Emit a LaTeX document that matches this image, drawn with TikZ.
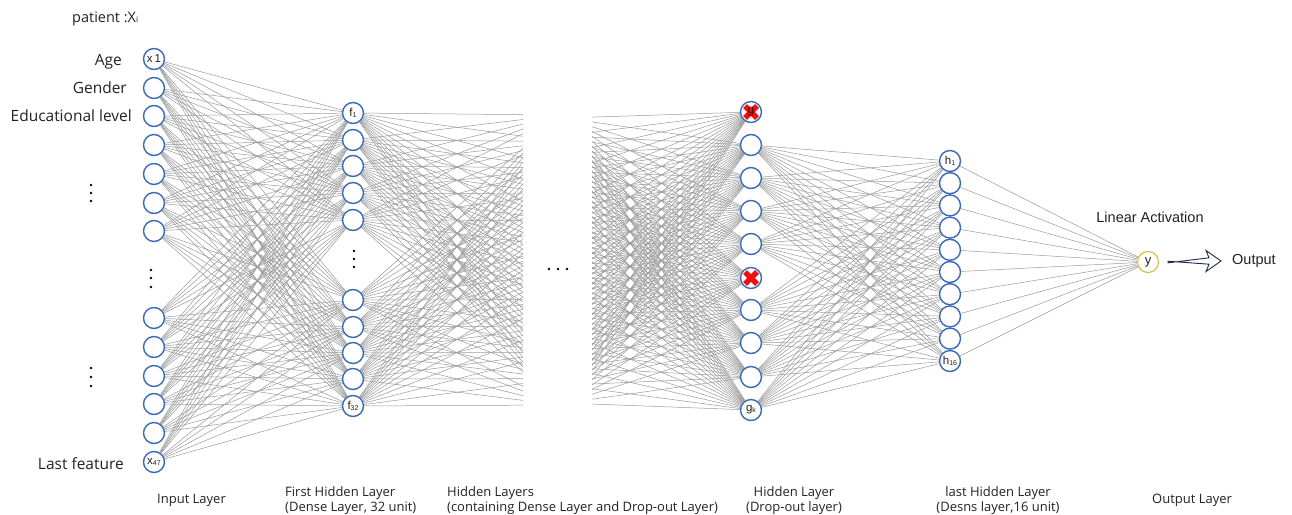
\documentclass[tikz,border=0pt]{standalone}
\usepackage{fontspec}
\setmainfont{Open Sans}
\newfontfamily\arialf{Liberation Sans}
\usetikzlibrary{arrows.meta}
\definecolor{nblue}{HTML}{3A69B7}
\definecolor{ngold}{HTML}{E6B94C}
\definecolor{lgray}{HTML}{999999}
\definecolor{txt}{HTML}{222222}
\definecolor{navy}{HTML}{1F2A4A}
\definecolor{xred}{HTML}{F01010}
\pgfdeclarelayer{bg}
\pgfsetlayers{bg,main}
\newcommand\sbs[1]{\raisebox{-0.7pt}{\fontsize{7}{7}\selectfont #1}}
\begin{document}
\begin{tikzpicture}[x=1pt,y=-1pt,
 neuron/.style={circle,draw=nblue,line width=1.4pt,fill=white,minimum size=21pt,inner sep=0pt,font=\arialf\fontsize{11.5}{11.5}\selectfont,text=txt},
 outneuron/.style={neuron,draw=ngold,line width=1.2pt,font=\arialf\fontsize{13}{13}\selectfont},
 conn/.style={lgray,line width=0.5pt},
 lefttext/.style={font=\fontsize{15.5}{17}\selectfont,text=txt,inner sep=0pt},
 layertext/.style={font=\fontsize{13}{15}\selectfont,text=txt,inner sep=0pt},
 arialtext/.style={font=\arialf\fontsize{14.5}{16}\selectfont,text=txt,inner sep=0pt},
 vdot/.style={circle,fill=black,inner sep=0pt,minimum size=2.8pt},
 dropx/.style={xred,line width=5.5pt},
 flow/.style={draw=navy,line width=0.9pt,line join=miter},
]
\useasboundingbox (0,0) rectangle (1292,514);

% ---- texts on the left
\node[lefttext,anchor=base west,font=\fontsize{14.5}{16}\selectfont] (pat) at (72,23) {patient :X{\fontsize{8.5}{8.5}\selectfont i}};
\node[lefttext,anchor=base east] (lage) at (122,65) {Age};
\node[lefttext,anchor=base east] (lgen) at (127,93) {Gender};
\node[lefttext,anchor=base east] (ledu) at (132,121) {Educational level};
\node[lefttext,anchor=base east] (llast) at (124,469) {Last feature};

% ---- input layer
\node[neuron] (i1) at (154,59) {x\,1};
\foreach \n/\yy in {2/88,3/116,4/145,5/174,6/203,7/231,8/318,9/347,10/376,11/404,12/433}
  \node[neuron] (i\n) at (154,\yy) {};
\node[neuron] (i13) at (154,462) {x\sbs{47}};

% ---- first hidden layer
\node[neuron] (f1) at (353,113) {f\sbs{1}};
\foreach \n/\yy in {2/140,3/166,4/193,5/220,6/300,7/327,8/353,9/379}
  \node[neuron] (f\n) at (353,\yy) {};
\node[neuron] (f10) at (353,406) {f\sbs{32}};

% ---- virtual cut-off layers
\foreach \j in {1,...,12} \coordinate (a\j) at (560,{115+(\j-1)*290/11});
\foreach \j in {1,...,17} \coordinate (b\j) at (565,{118+(\j-1)*285/16});

% ---- drop-out layer
\foreach \n/\yy in {1/112,2/145,3/178,4/211,5/244,6/278,7/310,8/343,9/377}
  \node[neuron] (g\n) at (751,\yy) {};
\node[neuron] (g10) at (751,410) {g\sbs{k}};
\draw[dropx] ([shift={(-6,-6)}]g1.center) -- ([shift={(6,6)}]g1.center);
\draw[dropx] ([shift={(-6,6)}]g1.center) -- ([shift={(6,-6)}]g1.center);
\node[font=\arialf\fontsize{12}{12}\selectfont,text=black!70!red,inner sep=0pt] (g1lab) at (g1) {g};
\draw[dropx] ([shift={(-6,-6)}]g6.center) -- ([shift={(6,6)}]g6.center);
\draw[dropx] ([shift={(-6,6)}]g6.center) -- ([shift={(6,-6)}]g6.center);

% ---- last hidden layer
\node[neuron] (h1) at (950,161) {h\sbs{1}};
\foreach \n in {2,...,9}
  \node[neuron] (h\n) at (950,{161+(\n-1)*22.2}) {};
\node[neuron] (h10) at (950,361) {h\sbs{16}};

% ---- output
\node[outneuron] (y) at (1148,262) {y};
\node[arialtext] (la) at (1150,217) {Linear Activation};
\node[arialtext,anchor=west] (out) at (1232,261) {Output};
\coordinate (as) at ([xshift=9pt]y.east);
\coordinate (ae) at ([xshift=-11pt]out.west);
\draw[flow] ([yshift=-0.8pt]as) -- ([shift={(-12,-3.2)}]ae) -- ([shift={(-15,-10.5)}]ae) -- (ae)
  -- ([shift={(-15,10.5)}]ae) -- ([shift={(-12,3.2)}]ae) -- ([yshift=0.8pt]as) -- cycle;

% ---- dots
\foreach \yy in {185,193,201} \node[vdot] at (91,\yy) {};
\foreach \yy in {270,278,287} \node[vdot] at (151,\yy) {};
\foreach \yy in {368,377,386} \node[vdot] at (91,\yy) {};
\foreach \yy in {251,259,267} \node[vdot] at (354,\yy) {};
\foreach \xx in {549,558,567} \node[vdot] at (\xx,269) {};

% ---- connectors
\begin{pgfonlayer}{bg}
  \foreach \i in {1,...,13} \foreach \j in {1,...,10} \draw[conn] (i\i) -- (f\j);
  \begin{scope}
    \clip (340,0) rectangle (523,514);
    \foreach \i in {1,...,10} \foreach \j in {1,...,12} \draw[conn] (f\i) -- (a\j);
  \end{scope}
  \begin{scope}
    \clip (592,0) rectangle (760,514);
    \foreach \i in {1,...,17} \foreach \j in {1,...,10} \draw[conn] (b\i) -- (g\j);
  \end{scope}
  \foreach \i in {2,3,4,5,7,8,9,10} \foreach \j in {1,...,10} \draw[conn] (g\i) -- (h\j);
  \foreach \j in {1,...,10} \draw[conn] (h\j) -- (y);
\end{pgfonlayer}

% ---- layer captions
\node[layertext,anchor=base west] (c1) at (157,503) {Input Layer};
\node[layertext,anchor=north west,align=left] (c2) at (285,486) {First Hidden Layer\\(Dense Layer, 32 unit)};
\node[layertext,anchor=north west,align=left] (c3) at (447,486) {Hidden Layers\\(containing Dense Layer and Drop-out Layer)};
\node[layertext,anchor=north,align=center] (c4) at (794,486) {Hidden Layer\\(Drop-out layer)};
\node[layertext,anchor=north,align=center] (c5) at (998,486) {last Hidden Layer\\(Desns layer,16 unit)};
\node[layertext,anchor=base west] (c6) at (1152,503) {Output Layer};
\end{tikzpicture}
\end{document}
